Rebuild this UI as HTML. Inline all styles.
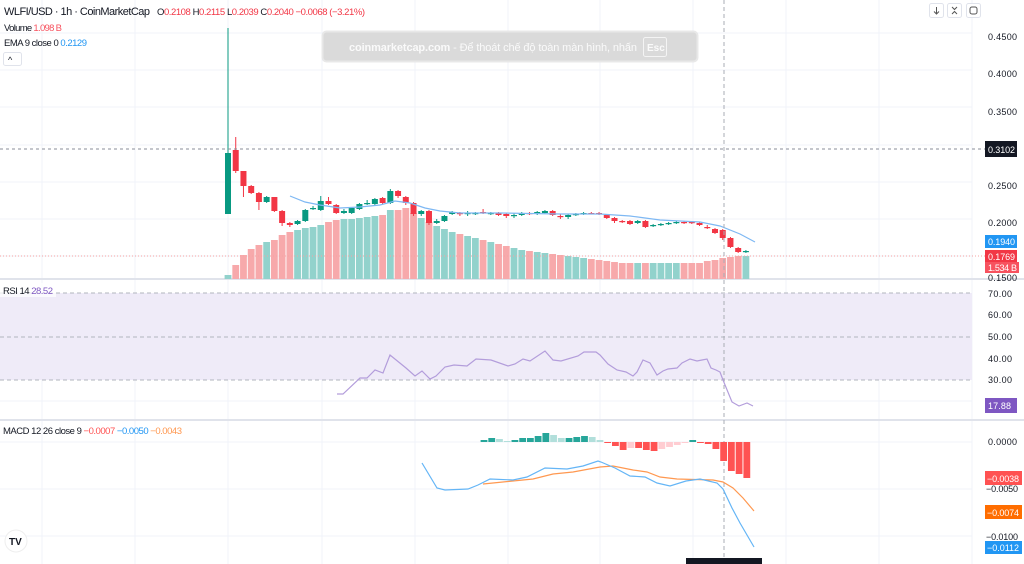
<!DOCTYPE html>
<html><head><meta charset="utf-8"><style>
body{margin:0;width:1024px;height:564px;overflow:hidden;background:#fff;font-family:"Liberation Sans","Noto Sans CJK SC",sans-serif}
svg{position:absolute;left:0;top:0}
text{font-family:"Liberation Sans","Noto Sans CJK SC",sans-serif}
</style></head><body>
<svg id="s" width="1024" height="564" xmlns="http://www.w3.org/2000/svg">
<g id="grid" stroke="#f0f3fa" stroke-width="1"></g>
<rect x="0" y="293" width="972" height="87" fill="#efebf8"/>
<g stroke="#b2b5be" stroke-dasharray="4,3" stroke-width="1">
<line x1="0" y1="293" x2="972" y2="293"/><line x1="0" y1="337" x2="972" y2="337"/><line x1="0" y1="380" x2="972" y2="380"/>
</g>
<rect x="0" y="278" width="1024" height="2" fill="#e0e3eb"/>
<rect x="0" y="419" width="1024" height="2" fill="#e0e3eb"/>
<g id="vol"></g>
<g id="cnd"></g>
<polyline fill="none" stroke="#7eb8f3" stroke-width="1.2" points="290,196 305,202 320,205 340,208 360,207 380,205 395,201 410,203 425,208 440,211 460,213 500,213 560,214 600,214 630,216 660,220 700,222 720,226 740,234 755,242"/>
<line x1="0" y1="149" x2="985" y2="149" stroke="#8a8e99" stroke-dasharray="3,3"/>
<line x1="0" y1="256" x2="985" y2="256" stroke="#f5a3a3" stroke-dasharray="1,2"/>
<line x1="724" y1="0" x2="724" y2="564" stroke="#a9acb5" stroke-dasharray="4,3"/>
<polyline fill="none" stroke="#b39ddb" stroke-width="1.2" points="337,394 343,394 360,378 367,378 375,370 383,373 390,355 406,368 415,376 422,371 430,379 436,376 445,367 454,365 467,366 476,359 491,360 508,366 515,364 523,359 530,361 545,351 553,360 561,361 578,356 584,352 596,352 600,355 608,364 617,370 626,372 633,376 637,372 643,360 650,363 657,375 663,371 668,369 677,368 682,363 690,359 697,361 702,360 707,359 711,368 716,370 720,372 723,380 732,402 739,406 747,403 753,406"/>
<g id="hist"></g>
<polyline fill="none" stroke="#ff9850" stroke-width="1.2" points="483,484 513,481 533,479 553,474 573,472 600,467 613,466 633,470 647,472 660,477 677,479 713,480 723,482 733,488 743,498 754,511"/>
<polyline fill="none" stroke="#64b5f6" stroke-width="1.2" points="422,463 437,488 445,490 468,489 478,485 490,479 513,480 527,477 545,468 567,469 583,466 598,461 601,462 615,468 630,476 645,477 657,483 670,486 686,481 700,479 717,483 723,489 732,508 740,523 754,547"/>
<rect x="686" y="558" width="76" height="6" fill="#131722"/>
<g font-size="9" fill="#131722">
<text x="988" y="40" textLength="29">0.4500</text><text x="988" y="77" textLength="29">0.4000</text><text x="988" y="115" textLength="29">0.3500</text>
<text x="988" y="189" textLength="29">0.2500</text><text x="988" y="226" textLength="29">0.2000</text><text x="988" y="281" textLength="29">0.1500</text>
<text x="988" y="297" textLength="24">70.00</text><text x="988" y="318" textLength="24">60.00</text><text x="988" y="340" textLength="24">50.00</text><text x="988" y="362" textLength="24">40.00</text><text x="988" y="383" textLength="24">30.00</text>
<text x="988" y="445" textLength="29">0.0000</text><text x="986" y="492" textLength="32">−0.0050</text><text x="986" y="540" textLength="32">−0.0100</text>
</g>
<g font-size="9" fill="#fff">
<rect x="985" y="141" width="32" height="16" fill="#131722"/><text x="988" y="153" textLength="27">0.3102</text>
<rect x="985" y="235" width="32" height="13" fill="#2196f3"/><text x="988" y="245" textLength="27">0.1940</text>
<rect x="985" y="250" width="32" height="12" fill="#f23645"/><text x="988" y="260" textLength="27">0.1769</text>
<rect x="985" y="262" width="34" height="11" fill="#f7525f"/><text x="988" y="271" textLength="29">1.534 B</text>
<rect x="985" y="398" width="32" height="15" fill="#7e57c2"/><text x="988" y="409" textLength="23">17.88</text>
<rect x="985" y="471" width="37" height="14" fill="#ff5252"/><text x="987" y="482" textLength="32">−0.0038</text>
<rect x="985" y="505" width="37" height="14" fill="#ff6d00"/><text x="987" y="516" textLength="32">−0.0074</text>
<rect x="985" y="541" width="37" height="13" fill="#2196f3"/><text x="987" y="551" textLength="32">−0.0112</text>
</g>
<text x="4" y="15" font-size="11" fill="#131722" textLength="146">WLFI/USD · 1h · CoinMarketCap</text>
<text x="157" y="15" font-size="9.5" fill="#f23645" textLength="208"><tspan fill="#131722">O</tspan>0.2108 <tspan fill="#131722">H</tspan>0.2115 <tspan fill="#131722">L</tspan>0.2039 <tspan fill="#131722">C</tspan>0.2040 −0.0068 (−3.21%)</text>
<text x="4" y="31" font-size="9.5" fill="#131722" textLength="58">Volume <tspan fill="#f7525f">1.098 B</tspan></text>
<text x="4" y="46" font-size="9.5" fill="#131722" textLength="83">EMA 9 close 0 <tspan fill="#2196f3">0.2129</tspan></text>
<rect x="3.5" y="52.5" width="18" height="13" rx="2" fill="#fff" stroke="#e0e3eb"/>
<text x="8" y="63" font-size="9" fill="#131722">^</text>
<rect x="0" y="283" width="56" height="14" fill="#fff" opacity="0.7"/>
<text x="3" y="294" font-size="9.5" fill="#131722" textLength="50">RSI 14 <tspan fill="#7e57c2">28.52</tspan></text>
<text x="3" y="434" font-size="9.5" fill="#131722" textLength="179">MACD 12 26 close 9 <tspan fill="#ff5252">−0.0007</tspan> <tspan fill="#2196f3">−0.0050</tspan> <tspan fill="#ff9850">−0.0043</tspan></text>
<rect x="322.5" y="31.5" width="375" height="30" rx="4" fill="#dadada" stroke="#e8e8e8" stroke-width="2"/>
<text x="349" y="51" font-size="11" fill="#fafafa" font-weight="bold" textLength="288">coinmarketcap.com <tspan font-weight="normal"> -  Để thoát chế độ toàn màn hình, nhấn</tspan></text>
<rect x="643.5" y="37.5" width="23" height="19" rx="2" fill="none" stroke="#f4f4f4"/>
<text x="647" y="51" font-size="10" fill="#fafafa" font-weight="bold">Esc</text>
<g fill="#fff" stroke="#e0e3eb"><rect x="929.5" y="3.5" width="14" height="14" rx="2"/><rect x="947.5" y="3.5" width="14" height="14" rx="2"/><rect x="966.5" y="3.5" width="14" height="14" rx="2"/></g>
<g stroke="#555" fill="none" stroke-width="1"><path d="M936.5 7v7M934 11.5l2.5 2.5 2.5-2.5"/><path d="M952 7l2.5 2.5 2.5-2.5M952 14l2.5-2.5 2.5 2.5"/><rect x="970" y="7" width="7" height="7" rx="2"/></g>
<circle cx="16" cy="541" r="11" fill="#fff" stroke="#eee"/>
<text x="9" y="545" font-size="10" font-weight="bold" fill="#131722">TV</text>
</svg>
<script>
const NS="http://www.w3.org/2000/svg";
function el(p,t,a){const e=document.createElementNS(NS,t);for(const k in a)e.setAttribute(k,a[k]);p.appendChild(e);return e;}
const g=document.getElementById('grid');
[42,135,228,322,415,508,600,693,786,879,972].forEach(x=>el(g,'line',{x1:x,y1:0,x2:x,y2:564}));
[33,70,107,145,182,219,256,315,358,401,442,489,536].forEach(y=>el(g,'line',{x1:0,y1:y,x2:972,y2:y}));
const C=[[214,153,28,214],[150,171,137,173],[171,186,171,197],[186,193,185,194],[193,202,192,210],[202,197,196,203],[197,211,197,212],[211,223,210,226],[223,225,222,227],[224,221,220,225],[221,210,209,222],[209,208,206,210],[210,201,196,211],[201,204,197,205],[205,213,204,214],[213,211,209,214],[213,208,207,214],[209,204,203,210],[204,203,200,205],[204,199,198,205],[198,203,197,204],[203,191,189,204],[191,196,190,198],[197,203,196,205],[203,214,202,216],[214,211,210,216],[211,223,210,225],[223,221,219,224],[221,216,215,222],[214,212,211,215],[213,214,212,216],[214,213,211,216],[214,213,212,215],[212,213,209,214],[214,213,212,215],[213,215,212,216],[214,216,213,218],[216,215,213,218],[215,213,212,216],[213,214,212,215],[214,212,211,215],[213,211,210,214],[211,215,210,216],[216,217,214,219],[217,215,214,219],[215,214,213,216],[214,213,212,215],[213,213,212,214],[213,214,212,215],[215,218,214,219],[218,221,217,223],[221,222,220,223],[221,224,220,225],[223,221,220,224],[221,227,220,228],[226,225,224,227],[225,224,223,226],[224,223,222,225],[223,222,221,224],[222,223,221,224],[222,223,221,224],[223,225,222,226],[227,228,225,229],[229,233,228,234],[230,238,229,240],[238,247,237,248],[248,252,247,253],[252,251,250,253]];
const V=[275,265,255,249,245,242,240,235,232,230,228,227,225,222,220,219,219,218,217,216,215,210,210,208,213,218,222,226,229,232,234,236,238,240,242,244,246,248,250,251,252,253,254,255,256,257,258,259,260,261,262,263,263,263,263,263,263,263,263,263,263,263,261,260,258,257,256,256];
const cg=document.getElementById('cnd'),vg=document.getElementById('vol');
C.forEach((c,i)=>{const x=228+7.73*i;const up=c[1]<c[0];const col=up?'#089981':'#f23645';
el(vg,'rect',{x:x-3.4,y:V[i],width:6.8,height:279-V[i],fill:up?'#92d2cc':'#f7a9ab'});
el(cg,'line',{x1:x,y1:c[2],x2:x,y2:c[3],stroke:col,'stroke-width':1});
const t=Math.min(c[0],c[1]),h=Math.max(1.2,Math.abs(c[0]-c[1]));
el(cg,'rect',{x:x-3,y:t,width:6,height:h,fill:col});});
const H=[2,4,3,1,2,4,4,6,9,7,4,4,5,6,5,2,-1,-4,-8,-6,-6,-8,-9,-7,-5,-3,-1,2,-1,-2,-7,-19,-29,-32,-36];
const hg=document.getElementById('hist');
H.forEach((h,i)=>{const x=484+7.73*i;let col;const prev=i?H[i-1]:0;
if(h>=0)col=h>=prev?'#26a69a':'#b2dfdb';else col=h<=prev?'#ff5252':'#ffcdd2';
el(hg,'rect',{x:x-3.4,y:h>=0?442-h:442,width:6.8,height:Math.abs(h),fill:col});});
</script>
</body></html>
